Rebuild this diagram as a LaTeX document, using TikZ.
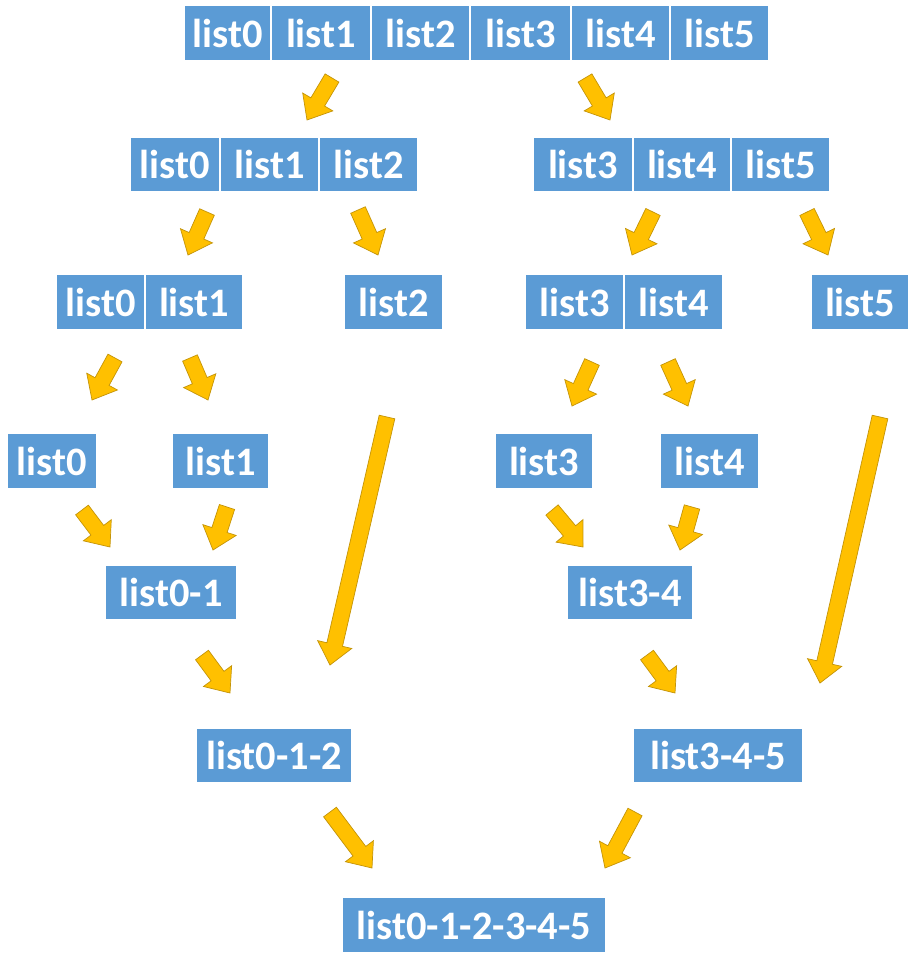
\documentclass[tikz,border=0pt]{standalone}
\usepackage{fontspec}
\setmainfont{Carlito}
\usetikzlibrary{calc}

\definecolor{listblue}{HTML}{5B9BD5}
\definecolor{arrowfill}{HTML}{FFC000}
\definecolor{arrowedge}{HTML}{C49408}

% block arrow from tail coordinate #1 to tip coordinate #2
\newcommand{\blockarrow}[2]{%
  \coordinate (hb) at ($(#2)!0.42cm!(#1)$);
  \filldraw[fill=arrowfill, draw=arrowedge, line width=0.4pt, line join=miter]
    ($(#1)!0.16cm!90:(#2)$) -- ($(hb)!0.16cm!-90:(#1)$) -- ($(hb)!0.35cm!-90:(#1)$)
    -- (#2) -- ($(hb)!0.35cm!90:(#1)$) -- ($(hb)!0.16cm!90:(#1)$)
    -- ($(#1)!0.16cm!-90:(#2)$) -- cycle;
}

\tikzset{
  cell/.style={fill=listblue, draw=white, line width=0.6pt, text=white,
    font=\bfseries\fontsize{23}{27}\selectfont, inner sep=0pt, minimum height=1.1cm}
}

\begin{document}
\begin{tikzpicture}[x=0.02cm, y=-0.02cm]
    \fill[white] (0,0) rectangle (917,962);
    \useasboundingbox (0,0) rectangle (917,962);

    % Top row: the whole list
    \node[cell, minimum width=1.74cm] (t0) at (227.5,33) {list0};
    \node[cell, minimum width=2.00cm] (t1) at (321,33) {list1};
    \node[cell, minimum width=1.98cm] (t2) at (420.5,33) {list2};
    \node[cell, minimum width=2.02cm] (t3) at (520.5,33) {list3};
    \node[cell, minimum width=1.98cm] (t4) at (620.5,33) {list4};
    \node[cell, minimum width=1.98cm] (t5) at (719.5,33) {list5};

    % Second row: two halves
    \node[cell, minimum width=1.80cm] (m0) at (175,164.5) {list0};
    \node[cell, minimum width=1.98cm] (m1) at (269.5,164.5) {list1};
    \node[cell, minimum width=1.98cm] (m2) at (368.5,164.5) {list2};
    \node[cell, minimum width=2.00cm] (m3) at (583,164.5) {list3};
    \node[cell, minimum width=1.96cm] (m4) at (682,164.5) {list4};
    \node[cell, minimum width=1.98cm] (m5) at (780.5,164.5) {list5};

    % Third row
    \node[cell, minimum width=1.78cm] (b0) at (100.5,302) {list0};
    \node[cell, minimum width=1.96cm] (b1) at (194,302) {list1};
    \node[cell, minimum width=1.98cm] (b2) at (393.5,302) {list2};
    \node[cell, minimum width=1.98cm] (b3) at (574.5,302) {list3};
    \node[cell, minimum width=1.98cm] (b4) at (673.5,302) {list4};
    \node[cell, minimum width=1.96cm] (b5) at (860,302) {list5};

    % Single lists
    \node[cell, minimum width=1.80cm] (s0) at (52,461) {list0};
    \node[cell, minimum width=1.94cm] (s1) at (220.5,461) {list1};
    \node[cell, minimum width=1.96cm] (s3) at (544,461) {list3};
    \node[cell, minimum width=1.98cm] (s4) at (709.5,461) {list4};

    % Merged lists
    \node[cell, minimum width=2.64cm] (p01) at (171,592.5) {list0-1};
    \node[cell, minimum width=2.52cm] (p34) at (630,592.5) {list3-4};
    \node[cell, minimum width=3.12cm] (p012) at (274,755.5) {list0-1-2};
    \node[cell, minimum width=3.40cm] (p345) at (718,755.5) {list3-4-5};
    \node[cell, minimum width=5.28cm] (all) at (474,925) {list0-1-2-3-4-5};

    % Arrow ends (tail / tip)
    \coordinate (t-m0) at (332,78);   \coordinate (m0-in) at (307,120);
    \coordinate (t-m3) at (585,78);   \coordinate (m3-in) at (610,120);
    \coordinate (m-b0) at (207,212);  \coordinate (b0-in) at (188,255);
    \coordinate (m-b2) at (358,210);  \coordinate (b2-in) at (378,255);
    \coordinate (m-b3) at (653,212);  \coordinate (b3-in) at (632,255);
    \coordinate (m-b5) at (807,212);  \coordinate (b5-in) at (828,255);
    \coordinate (b-s0) at (115,358);  \coordinate (s0-in) at (92,400);
    \coordinate (b-s1) at (190,358);  \coordinate (s1-in) at (208,400);
    \coordinate (b-s3) at (592,362);  \coordinate (s3-in) at (572,406);
    \coordinate (b-s4) at (668,362);  \coordinate (s4-in) at (688,406);
    \coordinate (s0-p) at (82,510);   \coordinate (p01-a) at (110,547);
    \coordinate (s1-p) at (227,507);  \coordinate (p01-b) at (213,550);
    \coordinate (s3-p) at (552,510);  \coordinate (p34-a) at (583,547);
    \coordinate (s4-p) at (692,507);  \coordinate (p34-b) at (680,550);
    \coordinate (b2-p) at (387,417);  \coordinate (p012-b) at (330,665);
    \coordinate (b5-p) at (880,417);  \coordinate (p345-b) at (820,683);
    \coordinate (p01-p) at (202,655); \coordinate (p012-a) at (230,693);
    \coordinate (p34-p) at (647,655); \coordinate (p345-a) at (675,693);
    \coordinate (p012-p) at (330,812); \coordinate (all-a) at (372,868);
    \coordinate (p345-p) at (635,812); \coordinate (all-b) at (605,868);

    % Arrows
    \blockarrow{t-m0}{m0-in}
    \blockarrow{t-m3}{m3-in}
    \blockarrow{m-b0}{b0-in}
    \blockarrow{m-b2}{b2-in}
    \blockarrow{m-b3}{b3-in}
    \blockarrow{m-b5}{b5-in}
    \blockarrow{b-s0}{s0-in}
    \blockarrow{b-s1}{s1-in}
    \blockarrow{b-s3}{s3-in}
    \blockarrow{b-s4}{s4-in}
    \blockarrow{s0-p}{p01-a}
    \blockarrow{s1-p}{p01-b}
    \blockarrow{s3-p}{p34-a}
    \blockarrow{s4-p}{p34-b}
    \blockarrow{b2-p}{p012-b}
    \blockarrow{b5-p}{p345-b}
    \blockarrow{p01-p}{p012-a}
    \blockarrow{p34-p}{p345-a}
    \blockarrow{p012-p}{all-a}
    \blockarrow{p345-p}{all-b}
\end{tikzpicture}
\end{document}
